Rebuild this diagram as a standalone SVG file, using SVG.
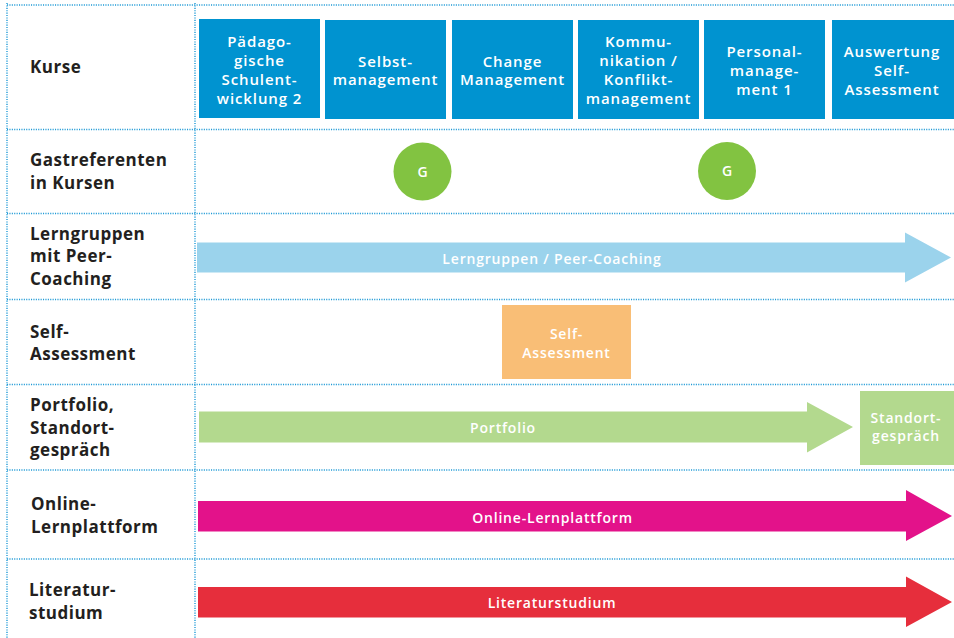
<svg xmlns="http://www.w3.org/2000/svg" width="954" height="638" viewBox="0 0 954 638">
<style>
  .grid { stroke: #1f9ad6; stroke-width: 1.4; stroke-dasharray: 1.1 1.3; fill: none; }
  .lbl { font-family: "Open Sans", "Liberation Sans", sans-serif; font-weight: 700; font-size: 17px; letter-spacing: 0.5px; fill: #231f20; }
  .wt { font-family: "Open Sans", "Liberation Sans", sans-serif; font-weight: 600; font-size: 15px; letter-spacing: 0.9px; fill: #ffffff; text-anchor: middle; }
  .wa { font-family: "Open Sans", "Liberation Sans", sans-serif; font-weight: 600; font-size: 14px; letter-spacing: 0.8px; fill: #ffffff; text-anchor: middle; }
  .kurs { fill: #0093d0; }
</style>
<rect width="954" height="638" fill="#ffffff"/>
<g id="grid">
  <line class="grid" x1="7" y1="5" x2="954" y2="5"/>
  <line class="grid" x1="7" y1="129.5" x2="954" y2="129.5"/>
  <line class="grid" x1="7" y1="213.5" x2="954" y2="213.5"/>
  <line class="grid" x1="7" y1="299.5" x2="954" y2="299.5"/>
  <line class="grid" x1="7" y1="384.5" x2="954" y2="384.5"/>
  <line class="grid" x1="7" y1="470" x2="954" y2="470"/>
  <line class="grid" x1="7" y1="559" x2="954" y2="559"/>
  <line class="grid" x1="7" y1="3" x2="7" y2="638"/>
  <line class="grid" x1="195" y1="3" x2="195" y2="638"/>
</g>
<g id="row-labels">
  <text class="lbl" x="30" y="73">Kurse</text>
  <text class="lbl" x="30" y="166">Gastreferenten</text>
  <text class="lbl" x="30" y="188.5">in Kursen</text>
  <text class="lbl" x="30" y="239.5">Lerngruppen</text>
  <text class="lbl" x="30" y="262">mit Peer-</text>
  <text class="lbl" x="30" y="284.5">Coaching</text>
  <text class="lbl" x="30" y="337.5">Self-</text>
  <text class="lbl" x="30" y="359.5">Assessment</text>
  <text class="lbl" x="30" y="411">Portfolio,</text>
  <text class="lbl" x="30" y="433.5">Standort-</text>
  <text class="lbl" x="30" y="455.5">gespräch</text>
  <text class="lbl" x="31" y="510">Online-</text>
  <text class="lbl" x="31" y="532.5">Lernplattform</text>
  <text class="lbl" x="29" y="596">Literatur-</text>
  <text class="lbl" x="29" y="619">studium</text>
</g>
<g id="kurs1">
  <rect class="kurs" x="199" y="19" width="121" height="99"/>
  <text class="wt" x="259.5" y="47">Pädago-</text>
  <text class="wt" x="259.5" y="65.5">gische</text>
  <text class="wt" x="259.5" y="84.5">Schulent-</text>
  <text class="wt" x="259.5" y="103.5">wicklung 2</text>
</g>
<g id="kurs2">
  <rect class="kurs" x="325" y="20" width="121" height="99"/>
  <text class="wt" x="385.5" y="66.5">Selbst-</text>
  <text class="wt" x="385.5" y="85">management</text>
</g>
<g id="kurs3">
  <rect class="kurs" x="452" y="20" width="121" height="99"/>
  <text class="wt" x="512.5" y="66.5">Change</text>
  <text class="wt" x="512.5" y="85">Management</text>
</g>
<g id="kurs4">
  <rect class="kurs" x="578" y="20" width="121" height="99"/>
  <text class="wt" x="638.5" y="47">Kommu-</text>
  <text class="wt" x="638.5" y="66">nikation /</text>
  <text class="wt" x="638.5" y="85">Konflikt-</text>
  <text class="wt" x="638.5" y="104">management</text>
</g>
<g id="kurs5">
  <rect class="kurs" x="704" y="20" width="121" height="99"/>
  <text class="wt" x="764.5" y="56.5">Personal-</text>
  <text class="wt" x="764.5" y="75.5">manage-</text>
  <text class="wt" x="764.5" y="94.5">ment 1</text>
</g>
<g id="kurs6">
  <rect class="kurs" x="832" y="20" width="122" height="99"/>
  <text class="wt" x="892" y="56.5">Auswertung</text>
  <text class="wt" x="892" y="75.5">Self-</text>
  <text class="wt" x="892" y="94.5">Assessment</text>
</g>
<g id="gast1">
  <circle cx="422.5" cy="171.5" r="29" fill="#82c341"/>
  <text class="wa" x="423" y="176.5">G</text>
</g>
<g id="gast2">
  <circle cx="727" cy="171" r="29" fill="#82c341"/>
  <text class="wa" x="727.5" y="176">G</text>
</g>
<g id="connectors">
  <polygon points="197,242.5 905,242.5 905,232.5 951,257.5 905,282.5 905,272.5 197,272.5" fill="#9bd3ec"/>
  <polygon points="199,411.5 807,411.5 807,402 853,427 807,452.5 807,442.5 199,442.5" fill="#b3d98e"/>
  <polygon points="198,501 906,501 906,490 952,516 906,541 906,531.5 198,531.5" fill="#e3128a"/>
  <polygon points="198,587 906,587 906,576.5 952,602 906,627 906,617.5 198,617.5" fill="#e62e3c"/>
</g>
<g id="arrow-labels">
  <text class="wa" x="552" y="264">Lerngruppen / Peer-Coaching</text>
  <text class="wa" x="503" y="433">Portfolio</text>
  <text class="wa" x="552.5" y="523">Online-Lernplattform</text>
  <text class="wa" x="552" y="608">Literaturstudium</text>
</g>
<g id="self-assessment">
  <rect x="502" y="305" width="129" height="74" fill="#f9be76"/>
  <text class="wa" x="566.5" y="338.5">Self-</text>
  <text class="wa" x="566.5" y="358">Assessment</text>
</g>
<g id="standortgespraech">
  <rect x="860" y="391" width="94" height="74" fill="#b3d98e"/>
  <text class="wa" x="906" y="422.5">Standort-</text>
  <text class="wa" x="906" y="441">gespräch</text>
</g>
</svg>
